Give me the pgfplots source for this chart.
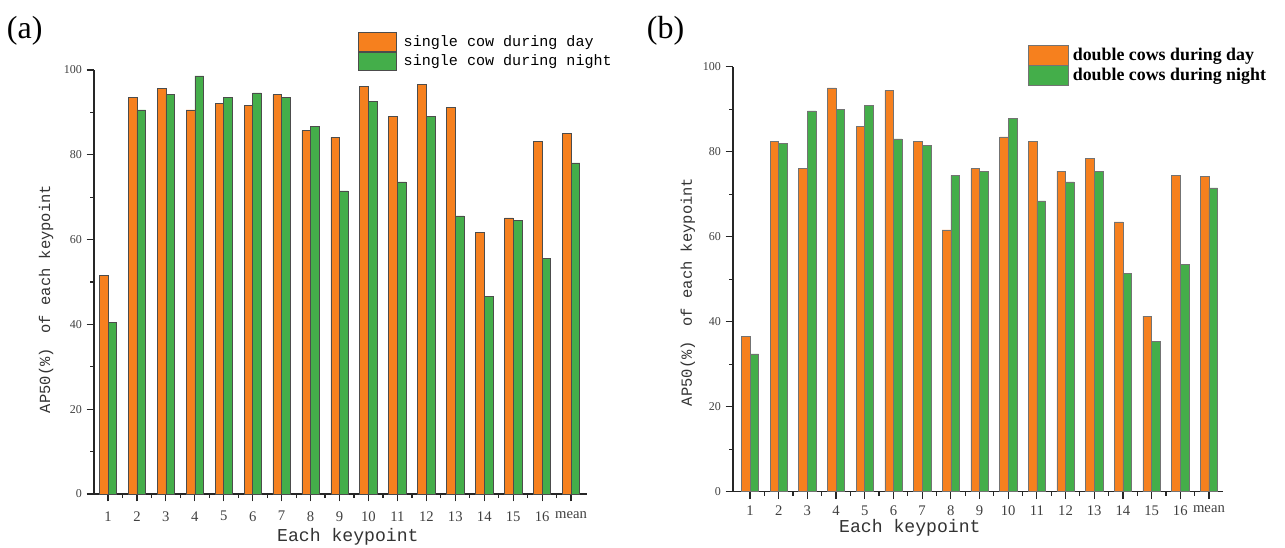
\documentclass[border=0pt]{standalone}
\usepackage{pgfplots}
\pgfplotsset{compat=1.18}
\usepackage{fontspec}
\setmainfont{Liberation Serif}
\setmonofont{Liberation Mono}
\definecolor{cOrange}{RGB}{246,128,30}
\definecolor{cGreen}{RGB}{68,174,74}

\pgfplotstableread{
x day night
1 51.5 40.5
2 93.6 90.6
3 95.7 94.2
4 90.6 98.6
5 92.1 93.6
6 91.6 94.6
7 94.2 93.6
8 85.7 86.6
9 84.1 71.5
10 96.2 92.6
11 89.1 73.6
12 96.6 89.1
13 91.1 65.6
14 61.6 46.6
15 65.1 64.6
16 83.2 55.6
17 85.1 78.1
}\tabA

\pgfplotstableread{
x day night
1 36.5 32.4
2 82.5 81.9
3 76.0 89.6
4 95.0 89.9
5 86.0 90.9
6 94.4 83.0
7 82.5 81.5
8 61.6 74.4
9 76.0 75.4
10 83.5 87.9
11 82.5 68.4
12 75.4 72.9
13 78.4 75.4
14 63.5 51.4
15 41.3 35.4
16 74.4 53.4
17 74.2 71.5
}\tabB

\pgfplotsset{
  common/.style={
    scale only axis,
    ybar=0pt,
    bar width=6.5pt,
    ymin=0, ymax=100,
    axis x line*=bottom,
    axis y line*=left,
    axis line style={line width=0.9pt, black!85},
    xtick={1,...,17},
    xticklabels={1,2,3,4,5,6,7,8,9,10,11,12,13,14,15,16,mean},
    minor xtick={1.5,2.5,...,16.5},
    ytick={0,20,40,60,80,100},
    minor ytick={10,30,50,70,90},
    /pgf/number format/assume math mode=true,
    yticklabel style={font=\fontsize{9}{9}\selectfont, text=black!75},
    xticklabel style={font=\fontsize{11}{11}\selectfont, text=black!75, yshift=-4pt},
    ylabel style={font=\ttfamily\fontsize{11.6}{12}\selectfont, text=black!80, anchor=center, rotate=0},
    xlabel style={font=\ttfamily\fontsize{13.6}{14}\selectfont, text=black!80, anchor=center},
    legend cell align=left,
    legend image code/.code={\draw[#1,line width=0.6pt] (0pt,-7pt) rectangle (28.5pt,7pt);},
  },
  outticks/.style={
    tick align=outside,
    major tick length=5.5pt,
    minor tick length=3pt,
    every tick/.style={line width=0.9pt, black!85},
  },
}

\begin{document}
\begin{tikzpicture}
\path[use as bounding box] (0,0) rectangle (963.75pt,410.25pt);
\node[anchor=north west, inner sep=0pt, font=\fontsize{24}{24}\selectfont] at (5pt,398pt) {(a)};
\node[anchor=north west, inner sep=0pt, font=\fontsize{24}{24}\selectfont] at (485pt,398pt) {(b)};

\begin{axis}[common,
  at={(70.5pt,39.75pt)}, anchor=south west,
  width=369.75pt, height=318pt,
  xmin=0.516, xmax=17.55,
  xlabel={Each keypoint},
  ylabel={AP50(\%)\hspace{0.35em} of each keypoint},
  xlabel style={at={(axis description cs:0.515,-0.102)}},
  ylabel style={at={(axis description cs:-0.097,0.46)}},
  legend style={at={(axis description cs:0.5274,1.096)}, anchor=north west,
    draw=none, fill=none, font=\ttfamily\fontsize{11.3}{11.3}\selectfont,
    nodes={inner ysep=2pt, inner xsep=5pt}, row sep=0pt},
  outticks,
]
\addplot[fill=cOrange, draw=black!70, line width=0.5pt] table[x=x,y=day] {\tabA};
\addplot[fill=cGreen, draw=black!70, line width=0.5pt] table[x=x,y=night] {\tabA};
\legend{single cow during day, single cow during night}
\end{axis}

\begin{axis}[common,
  at={(549.75pt,41.5pt)}, anchor=south west,
  width=367.5pt, height=318.75pt,
  xmin=0.407, xmax=17.49,
  xlabel={Each keypoint},
  ylabel={AP50(\%)\hspace{0.35em} of each keypoint},
  xlabel style={at={(axis description cs:0.361,-0.086)}},
  ylabel style={at={(axis description cs:-0.092,0.47)}},
  legend style={at={(axis description cs:0.594,1.058)}, anchor=north west,
    draw=none, fill=none, font=\bfseries\fontsize{13.4}{13.4}\selectfont,
    nodes={inner ysep=1.8pt, inner xsep=3pt}, row sep=0pt},
  legend image code/.code={\draw[#1,line width=0.4pt] (0pt,-7.5pt) rectangle (30pt,7.5pt);},
  outticks,
  xticklabel style={yshift=2.5pt},
]
\addplot[fill=cOrange, draw=black!55, line width=0.4pt] table[x=x,y=day] {\tabB};
\addplot[fill=cGreen, draw=black!55, line width=0.4pt] table[x=x,y=night] {\tabB};
\legend{double cows during day, double cows during night}
\end{axis}
\end{tikzpicture}
\end{document}
